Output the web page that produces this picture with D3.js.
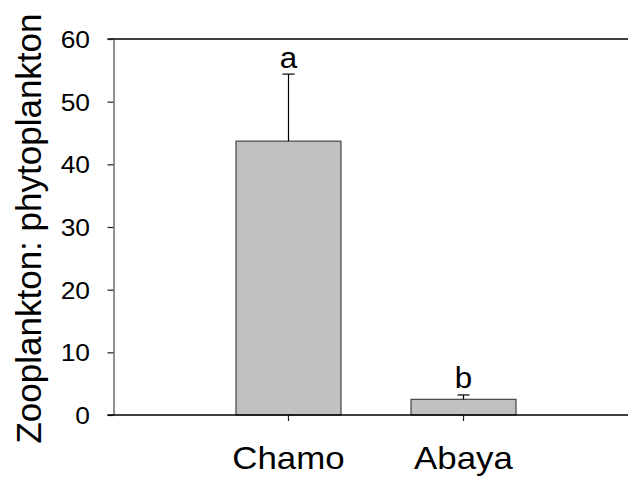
<!DOCTYPE html>
<html>
<head>
<meta charset="utf-8">
<script src="https://cdn.jsdelivr.net/npm/d3@7"></script>
<style>
  html, body { margin: 0; padding: 0; background: #fff; }
  svg { display: block; font-family: Arial, "Liberation Sans", sans-serif; }
</style>
</head>
<body>
<svg id="chart" width="628" height="481"></svg>
<script>
// Zooplankton : phytoplankton ratio by lake
const lakes = ["Chamo", "Abaya"];
const ratioMean = [43.7, 2.5];
const ratioSE = [10.7, 0.7];
const groupLetters = ["a", "b"];
const yTicks = [0, 10, 20, 30, 40, 50, 60];

const svg = d3.select("#chart");
const plotLeft = 113.5, plotRight = 638.5, plotTop = 39, plotBottom = 415;

const x = d3.scaleBand().domain(lakes).range([plotLeft, plotRight])
  .paddingInner(0.4).paddingOuter(0.7);
const y = d3.scaleLinear().domain([0, 60]).range([plotBottom, plotTop]);

const data = lakes.map((k, i) => ({ lake: k, mean: ratioMean[i], se: ratioSE[i], letter: groupLetters[i] }));

// frame: top line
svg.append("line").attr("x1", plotLeft - 6).attr("x2", 628).attr("y1", plotTop).attr("y2", plotTop)
  .attr("stroke", "#000").attr("stroke-width", 1.5);

// bars
svg.selectAll("rect.bar").data(data).join("rect")
  .attr("class", "bar")
  .attr("x", d => x(d.lake))
  .attr("width", x.bandwidth())
  .attr("y", d => y(d.mean))
  .attr("height", d => y(0) - y(d.mean))
  .attr("fill", "#c0c0c0")
  .attr("stroke", "#444")
  .attr("stroke-width", 1.2);

// error bars (upper only)
const cx = d => x(d.lake) + x.bandwidth() / 2;
svg.selectAll("line.err").data(data).join("line")
  .attr("class", "err")
  .attr("x1", cx).attr("x2", cx)
  .attr("y1", d => y(d.mean)).attr("y2", d => y(d.mean + d.se))
  .attr("stroke", "#000").attr("stroke-width", 1.2);
svg.selectAll("line.cap").data(data).join("line")
  .attr("class", "cap")
  .attr("x1", d => cx(d) - 6).attr("x2", d => cx(d) + 6)
  .attr("y1", d => y(d.mean + d.se)).attr("y2", d => y(d.mean + d.se))
  .attr("stroke", "#000").attr("stroke-width", 1.2);

// significance letters
svg.selectAll("text.letter").data(data).join("text")
  .attr("class", "letter")
  .attr("transform", d => `translate(${cx(d)},${y(d.mean + d.se) - 6.5}) scale(1.08,1)`)
  .attr("text-anchor", "middle")
  .attr("font-size", 29)
  .attr("fill", "#000")
  .text(d => d.letter);

// y axis
const yAxis = d3.axisLeft(y).tickValues(yTicks).tickSize(6).tickSizeOuter(0).tickFormat(d3.format("d"));
const gy = svg.append("g").attr("transform", `translate(${plotLeft},0)`).call(yAxis);
gy.select(".domain").attr("stroke", "#444").attr("stroke-width", 1.2);
gy.selectAll(".tick line").attr("stroke", "#222").attr("stroke-width", 1.2);
gy.selectAll(".tick text")
  .attr("x", null).attr("dy", null)
  .attr("font-size", 24).attr("fill", "#000")
  .attr("font-family", "Arial, 'Liberation Sans', sans-serif")
  .attr("text-anchor", "end")
  .attr("transform", "translate(-23.5,8.5) scale(1.1,1)");

// x axis
const xAxis = d3.axisBottom(x).tickSize(6).tickSizeOuter(0);
const gx = svg.append("g").attr("transform", `translate(0,${plotBottom})`).call(xAxis);
gx.select(".domain").remove();
gx.selectAll(".tick line").attr("stroke", "#222").attr("stroke-width", 1.2);
gx.selectAll(".tick text")
  .attr("y", null).attr("dy", null)
  .attr("font-size", 32).attr("fill", "#000")
  .attr("font-family", "Arial, 'Liberation Sans', sans-serif")
  .attr("transform", "translate(0,54.3) scale(1.09,1)");
svg.append("line").attr("x1", plotLeft - 6).attr("x2", 628).attr("y1", plotBottom).attr("y2", plotBottom)
  .attr("stroke", "#000").attr("stroke-width", 1.5);

// y axis title
svg.append("text")
  .attr("transform", `translate(41,${(12 + 445) / 2}) rotate(-90)`)
  .attr("text-anchor", "middle")
  .attr("font-size", 35)
  .attr("fill", "#000")
  .text("Zooplankton: phytoplankton");
</script>
</body>
</html>
